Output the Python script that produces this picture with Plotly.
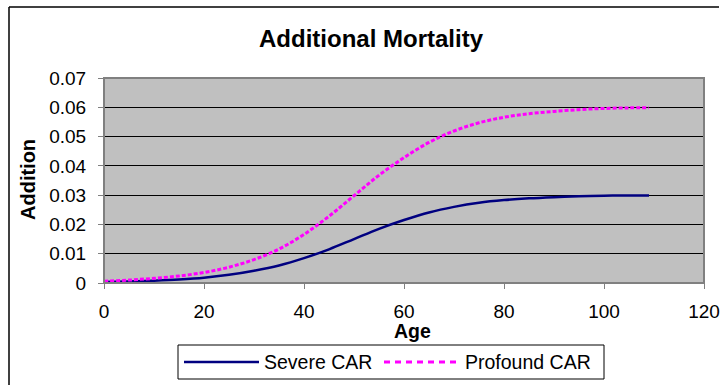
import plotly.graph_objects as go

# ---- data ----
ages = [0, 5, 10, 15, 20, 25, 30, 35, 40, 45, 50, 55, 60, 65, 70, 75, 80, 85, 90, 95, 100, 105, 109]
severe_car = [0.0003, 0.0005, 0.0008, 0.0012, 0.0018, 0.0028, 0.0042, 0.0060, 0.0085, 0.0115,
              0.0150, 0.0185, 0.0215, 0.0241, 0.0260, 0.0274, 0.0283, 0.0289, 0.0293, 0.0296,
              0.0298, 0.0299, 0.0299]
profound_car = [0.0006, 0.0010, 0.0016, 0.0024, 0.0036, 0.0054, 0.0080, 0.0116, 0.0166, 0.0228,
                0.0298, 0.0368, 0.0428, 0.0480, 0.0519, 0.0547, 0.0566, 0.0578, 0.0586, 0.0592,
                0.0596, 0.0598, 0.0598]
series_names = ["Severe CAR", "Profound CAR"]
x_ticks = [0, 20, 40, 60, 80, 100, 120]
y_ticks = [0, 0.01, 0.02, 0.03, 0.04, 0.05, 0.06, 0.07]
y_tick_text = ["0", "0.01", "0.02", "0.03", "0.04", "0.05", "0.06", "0.07"]

FONT = "Arial, 'Liberation Sans', sans-serif"
NAVY = "#000080"
MAGENTA = "#FF00FF"
MAG_DASH = "4px,2px"

# plot area in pixels
L, R, T, B = 104, 704, 78, 283
W, H = 720, 386


def px(x):
    return (x - L) / (R - L)


def py(y):
    return (B - y) / (B - T)


fig = go.Figure()
fig.add_trace(go.Scatter(x=ages, y=severe_car, mode="lines", name=series_names[0],
                         line=dict(color=NAVY, width=2.5, shape="spline"), showlegend=False))
fig.add_trace(go.Scatter(x=ages, y=profound_car, mode="lines", name=series_names[1],
                         line=dict(color=MAGENTA, width=3, dash=MAG_DASH, shape="spline"),
                         showlegend=False))

shapes = []
annotations = []

# outer chart border (top and left visible)
shapes.append(dict(type="line", xref="paper", yref="paper", x0=px(9), x1=px(719), y0=py(7), y1=py(7),
                   line=dict(color="black", width=1.5)))
shapes.append(dict(type="line", xref="paper", yref="paper", x0=px(9), x1=px(9), y0=py(7), y1=py(385),
                   line=dict(color="black", width=1.5)))

# plot area border
shapes.append(dict(type="rect", xref="paper", yref="paper", x0=0, x1=1, y0=0, y1=1,
                   line=dict(color="#808080", width=2), layer="above"))

# title and axis titles
annotations.append(dict(text="<b>Additional Mortality</b>", xref="paper", yref="paper",
                        x=px(371), y=py(38), showarrow=False, xanchor="center", yanchor="middle",
                        font=dict(family=FONT, size=24, color="black")))
annotations.append(dict(text="<b>Age</b>", xref="paper", yref="paper",
                        x=px(412), y=py(331), showarrow=False, xanchor="center", yanchor="middle",
                        font=dict(family=FONT, size=19.5, color="black")))
annotations.append(dict(text="<b>Addition</b>", xref="paper", yref="paper", textangle=-90,
                        x=px(28), y=py(180), showarrow=False, xanchor="center", yanchor="middle",
                        font=dict(family=FONT, size=20, color="black")))

# legend (drawn manually to match the box)
shapes.append(dict(type="rect", xref="paper", yref="paper", x0=px(178), x1=px(604), y0=py(345), y1=py(379),
                   line=dict(color="black", width=1), fillcolor="white"))
shapes.append(dict(type="line", xref="paper", yref="paper", x0=px(184), x1=px(259), y0=py(362), y1=py(362),
                   line=dict(color=NAVY, width=2.5)))
shapes.append(dict(type="line", xref="paper", yref="paper", x0=px(384), x1=px(460), y0=py(362), y1=py(362),
                   line=dict(color=MAGENTA, width=3, dash="6px,5px")))
annotations.append(dict(text=series_names[0], xref="paper", yref="paper", x=px(262), y=py(362),
                        showarrow=False, xanchor="left", yanchor="middle",
                        font=dict(family=FONT, size=19.5, color="black")))
annotations.append(dict(text=series_names[1], xref="paper", yref="paper", x=px(463), y=py(362),
                        showarrow=False, xanchor="left", yanchor="middle",
                        font=dict(family=FONT, size=19.5, color="black")))

fig.update_layout(
    width=W, height=H,
    margin=dict(l=L, r=W - R, t=T, b=H - B, autoexpand=False),
    paper_bgcolor="white",
    plot_bgcolor="#C0C0C0",
    showlegend=False,
    shapes=shapes,
    annotations=annotations,
    font=dict(family=FONT, size=19, color="black"),
)
fig.update_xaxes(range=[0, 120], tickvals=x_ticks, ticks="outside", ticklen=5, tickcolor="#808080",
                 showgrid=False, zeroline=False, showline=False, ticklabelstandoff=6, automargin=False,
                 tickfont=dict(family=FONT, size=19, color="black"))
fig.update_yaxes(range=[0, 0.07], tickvals=y_ticks, ticktext=y_tick_text, ticks="outside", ticklen=5,
                 tickcolor="#808080", showgrid=True, gridcolor="#000000", gridwidth=1, zeroline=False,
                 showline=False, ticklabelstandoff=8, automargin=False,
                 tickfont=dict(family=FONT, size=19, color="black"))

fig.write_html("out.html")
